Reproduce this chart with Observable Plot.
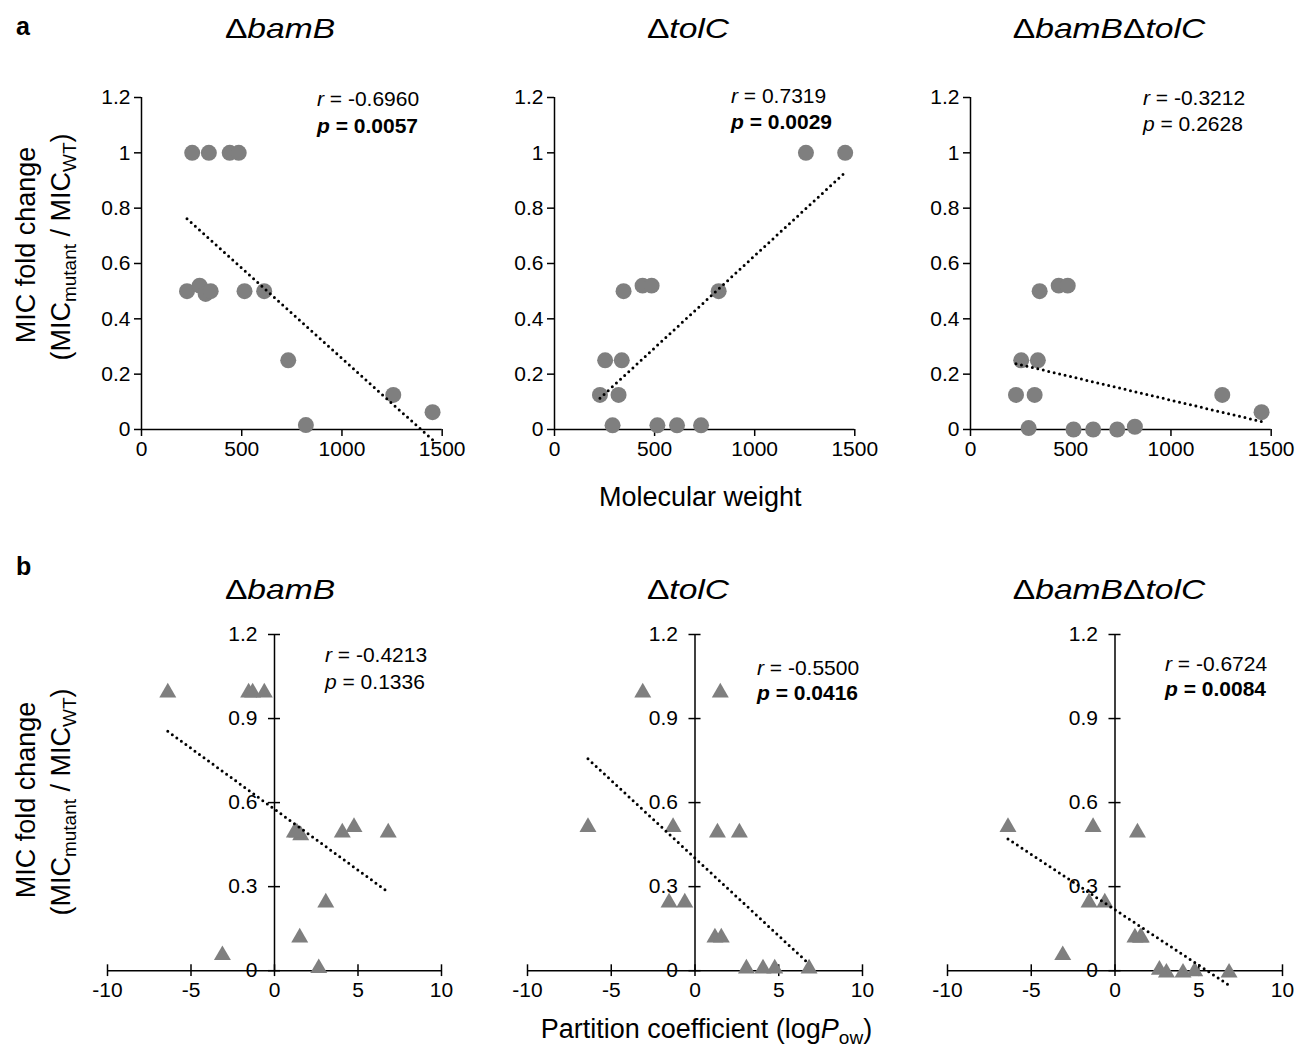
<!DOCTYPE html>
<html><head><meta charset="utf-8">
<script src="https://cdn.jsdelivr.net/npm/d3@7"></script>
<script src="https://cdn.jsdelivr.net/npm/@observablehq/plot@0.6"></script>
<style>
body{margin:0;background:#fff;}
#fig{position:relative;width:1300px;height:1048px;font-family:"Liberation Sans",Arial,sans-serif;color:#000;overflow:hidden;background:#fff}
.abs{position:absolute;white-space:nowrap}
.title{font-size:28px;line-height:28px;transform:translate(-50%,-50%) scaleX(1.2)}
.ann{font-size:21px;line-height:21px}
.ylab{font-size:27px;line-height:27px;transform:translate(-50%,-50%) rotate(-90deg)}
.sub{font-size:19px;position:relative;top:6px;line-height:0}
.xlab{font-size:27px;line-height:27px}
.letter{font-size:25px;font-weight:bold;line-height:25px}
</style></head><body><div id="fig"></div>
<script>
// ---- data (one entry per compound) ----
const molecularWeight = [227, 253, 290, 320, 336, 345, 440, 485, 514, 612, 732, 820, 1256, 1452];
const logPow          = [1.19, -1.55, 4.76, 1.57, -0.61, 1.34, -6.39, -1.31, 4.06, 6.81, 3.07, 2.65, 1.51, -3.12];
const foldBamB        = [0.5, 1.0, 0.52, 0.49, 1.0, 0.5, 1.0, 1.0, 0.5, 0.5, 0.25, 0.016, 0.125, 0.0625];
const foldTolC        = [0.125, 0.25, 0.015, 0.125, 0.25, 0.5, 0.52, 0.52, 0.015, 0.015, 0.015, 0.5, 1.0, 1.0];
const foldBamBTolC    = [0.125, 0.25, 0.005, 0.125, 0.25, 0.5, 0.52, 0.52, 0, 0, 0, 0.01, 0.125, 0.0625];

const strains = ["bamB", "tolC", "bamBtolC"];
const rStats = ["-0.6960", "0.7319", "-0.3212", "-0.4213", "-0.5500", "-0.6724"];
const pStats = ["0.0057", "0.0029", "0.2628", "0.1336", "0.0416", "0.0084"];
const pSignificant = [true, true, false, false, true, true];

const aXTicks = [0, 500, 1000, 1500];
const aYTicks = [0, 0.2, 0.4, 0.6, 0.8, 1, 1.2];
const bXTicks = [-10, -5, 0, 5, 10];
const bYTicks = [0, 0.3, 0.6, 0.9, 1.2];

const rows = molecularWeight.map((mw, i) => ({
  mw, logP: logPow[i], bamB: foldBamB[i], tolC: foldTolC[i], bamBtolC: foldBamBTolC[i]
}));

const fig = document.getElementById("fig");
const FONT = '"Liberation Sans", Arial, sans-serif';
const ML = 70, MR = 30, MT = 20, MB = 45;
const GRAY = "#7f7f7f";
const TICKFONT = 21;
const lineStyle = {stroke: "#000", strokeWidth: 3, strokeDasharray: "0 5.6", strokeLinecap: "round"};

function panel(kind, strain, left, right, top, bottom) {
  const xKey = kind === "a" ? "mw" : "logP";
  const xDomain = kind === "a" ? [0, 1500] : [-10, 10];
  const marks = [];
  if (kind === "a") {
    marks.push(
      Plot.ruleY([0], {stroke: "#000", strokeWidth: 1.5}),
      Plot.ruleX([0], {stroke: "#000", strokeWidth: 1.5}),
      Plot.axisX({ticks: aXTicks, tickSize: 7, tickPadding: 5, tickFormat: d => String(d), fontSize: TICKFONT, strokeWidth: 1.5, label: null}),
      Plot.axisY({ticks: aYTicks, tickSize: 7, tickPadding: 4, tickFormat: d => String(d), fontSize: TICKFONT, strokeWidth: 1.5, label: null}),
      Plot.dot(rows, {x: xKey, y: strain, r: 8, fill: GRAY, stroke: "none"})
    );
  } else {
    marks.push(
      Plot.ruleY([0], {stroke: "#000", strokeWidth: 1.5}),
      Plot.ruleX([0], {y1: 0, y2: 1.2, stroke: "#000", strokeWidth: 1.5}),
      Plot.ruleY(bYTicks, {y: d => d, x1: -0.36, x2: 0.36, stroke: "#000", strokeWidth: 1.5}),
      Plot.ruleX(bXTicks, {x: d => d, y1: -0.021, y2: 0.021, stroke: "#000", strokeWidth: 1.5}),
      Plot.text(bYTicks, {x: 0, y: d => d, text: d => String(d), textAnchor: "end", dx: -17, fontSize: TICKFONT, fill: "#000"}),
      Plot.text(bXTicks, {x: d => d, y: 0, text: d => String(d), dy: 20, fontSize: TICKFONT, fill: "#000"}),
      Plot.dot(rows, {x: xKey, y: strain, r: 6.3, symbol: "triangle", dy: 2, fill: GRAY, stroke: "none"})
    );
  }
  marks.push(Plot.linearRegressionY(rows, {x: xKey, y: strain, ci: 0, ...lineStyle}));
  const svg = Plot.plot({
    width: right - left + ML + MR,
    height: bottom - top + MT + MB,
    marginLeft: ML, marginRight: MR, marginTop: MT, marginBottom: MB,
    x: {domain: xDomain},
    y: {domain: [0, 1.2]},
    axis: null,
    style: {fontFamily: FONT, fontSize: TICKFONT + "px", color: "#000", background: "transparent", overflow: "visible"},
    marks
  });
  svg.style.position = "absolute";
  svg.style.left = (left - ML) + "px";
  svg.style.top = (top - MT) + "px";
  fig.appendChild(svg);
}

function addDiv(cls, html, left, top) {
  const d = document.createElement("div");
  d.className = "abs " + cls;
  d.innerHTML = html;
  d.style.left = left + "px";
  d.style.top = top + "px";
  fig.appendChild(d);
  return d;
}

// panels
const aFrames = [[141, 441.7], [554, 854.3], [970, 1270.7]];
const bFrames = [[106.7, 440.7], [526.7, 861.7], [947.3, 1282.3]];
strains.forEach((s, i) => panel("a", s, aFrames[i][0], aFrames[i][1], 97, 429));
strains.forEach((s, i) => panel("b", s, bFrames[i][0], bFrames[i][1], 634.3, 970.5));

// titles
const titleHTML = ['<span>Δ</span><i>bamB</i>', '<span>Δ</span><i>tolC</i>', '<span>Δ</span><i>bamB</i><span>Δ</span><i>tolC</i>'];
const titleX = [280, 688, 1109];
titleHTML.forEach((h, i) => { addDiv("title", h, titleX[i], 29); addDiv("title", h, titleX[i], 590); });

// stats
const annPos = [[317, 98, 125], [731, 95, 121], [1143, 97, 123], [325, 654, 681], [757, 667, 692.5], [1165, 663.3, 688.3]];
annPos.forEach(([x, yr, yp], i) => {
  addDiv("ann", `<i>r</i> = ${rStats[i]}`, x, yr - 10.5);
  const ph = pSignificant[i] ? `<b><i>p</i> = ${pStats[i]}</b>` : `<i>p</i> = ${pStats[i]}`;
  addDiv("ann", ph, x, yp - 10.5);
});

// axis titles
addDiv("xlab", "Molecular weight", 599, 483.5);
addDiv("xlab", 'Partition coefficient (log<i>P</i><span class="sub">ow</span>)', 540.7, 1016);
const ylab1 = "MIC fold change";
const ylab2 = '(MIC<span class="sub">mutant</span> / MIC<span class="sub">WT</span>)';
[245, 800].forEach(cy => { addDiv("ylab", ylab1, 26, cy); addDiv("ylab", ylab2, 61, cy + 2); });

// panel letters
addDiv("letter", "a", 16, 13.5);
addDiv("letter", "b", 16, 554);
</script></body></html>
